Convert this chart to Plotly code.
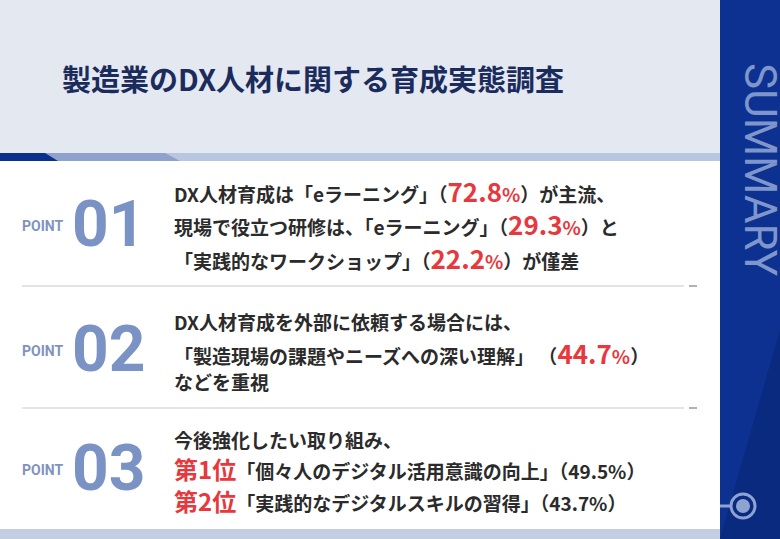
import plotly.graph_objects as go

title = "製造業のDX人材に関する育成実態調査"
point_nums = ["01", "02", "03"]
p1_vals = [72.8, 29.3, 22.2]
p2_vals = [44.7]
p3_ranks = ["第1位", "第2位"]
p3_items = ["「個々人のデジタル活用意識の向上」", "「実践的なデジタルスキルの習得」"]
p3_vals = [49.5, 43.7]

RED = "#e8383d"
DARK = "#2b2b2b"
FONT = "Noto Sans CJK JP"

def pct(v):
    return (f"<b><span style='color:{RED};font-size:26px'>{v}</span>"
            f"<span style='color:{RED};font-size:19px'>%</span></b>")

fig = go.Figure()
W, H = 780, 539
shapes = [
    dict(type="rect", x0=0, x1=720, y0=0, y1=153, fillcolor="#e3e8f1", line_width=0, layer="below"),
    dict(type="rect", x0=0, x1=720, y0=153, y1=161, fillcolor="#b9c6df", line_width=0),
    dict(type="path", path="M 0 153 L 165 153 L 180 161 L 0 161 Z", fillcolor="#8ea2cc", line_width=0),
    dict(type="path", path="M 0 153 L 45 153 L 58 161 L 0 161 Z", fillcolor="#0b2f8c", line_width=0),
    dict(type="rect", x0=0, x1=720, y0=161, y1=529, fillcolor="white", line_width=0),
    dict(type="rect", x0=0, x1=720, y0=529, y1=539, fillcolor="#c3cee4", line_width=0),
    dict(type="rect", x0=720, x1=780, y0=0, y1=539, fillcolor="#0c3190", line_width=0),
    dict(type="path", path="M 720 539 L 780 330 L 780 539 Z", fillcolor="#0a2a80", line_width=0),
    dict(type="circle", x0=731, x1=755, y0=494, y1=518, line=dict(color="#8fa3d3", width=3), fillcolor="rgba(0,0,0,0)"),
    dict(type="circle", x0=736, x1=750, y0=499, y1=513, fillcolor="#8fa3d3", line_width=0),
    dict(type="line", x0=720, x1=731, y0=506, y1=506, line=dict(color="#8fa3d3", width=3)),
]
for y in [286, 408]:
    shapes.append(dict(type="line", x0=22, x1=684, y0=y, y1=y, line=dict(color="#c9c9c9", width=1)))
    shapes.append(dict(type="line", x0=689, x1=697, y0=y, y1=y, line=dict(color="#999999", width=1.5)))

ann = [dict(x=60, y=78, text=f"<b>{title}</b>", font=dict(size=29, color="#1b2c5c"), xanchor="left")]
ann.append(dict(x=760, y=170, text="SUMMARY", textangle=90, font=dict(size=44, color="#7f96cc", family="Roboto"), xanchor="center"))
for yc, n in zip([226, 351, 470], point_nums):
    ann.append(dict(x=20, y=yc, text="<b>POINT</b>", font=dict(size=14, color="#7f93bf", family="Roboto"), xanchor="left"))
    ann.append(dict(x=70, y=yc - 2, text=f"<b>{n}</b>", font=dict(size=64, color="#7b93c4", family="Roboto"), xanchor="left"))

lines = [
    (190, f"<b>DX人材育成は「eラーニング」（{pct(p1_vals[0])}）が主流、</b>"),
    (223, f"<b>現場で役立つ研修は、「eラーニング」（{pct(p1_vals[1])}）と</b>"),
    (257, f"<b>「実践的なワークショップ」（{pct(p1_vals[2])}）が僅差</b>"),
    (321, "<b>DX人材育成を外部に依頼する場合には、</b>"),
    (352, f"<b>「製造現場の課題やニーズへの深い理解」 （{pct(p2_vals[0])}）</b>"),
    (381, "<b>などを重視</b>"),
    (439, "<b>今後強化したい取り組み、</b>"),
]
for i in range(2):
    lines.append((468 + i * 32,
                  f"<b><span style='color:{RED};font-size:24px'>{p3_ranks[i]}</span>{p3_items[i]}（{p3_vals[i]}%）</b>"))
for y, t in lines:
    ann.append(dict(x=172, y=y, text=t, font=dict(size=19, color=DARK), xanchor="left"))

for a in ann:
    a.update(xref="x", yref="y", showarrow=False, yanchor="middle")

fig.update_layout(
    width=W, height=H, margin=dict(l=0, r=0, t=0, b=0),
    paper_bgcolor="white", plot_bgcolor="white",
    font=dict(family=FONT),
    xaxis=dict(range=[0, W], visible=False, fixedrange=True),
    yaxis=dict(range=[H, 0], visible=False, fixedrange=True),
    shapes=shapes, annotations=ann, showlegend=False,
)
fig.write_html("out.html", config={"displayModeBar": False},
               post_script="document.body.style.margin='0';document.body.style.overflow='hidden';")
